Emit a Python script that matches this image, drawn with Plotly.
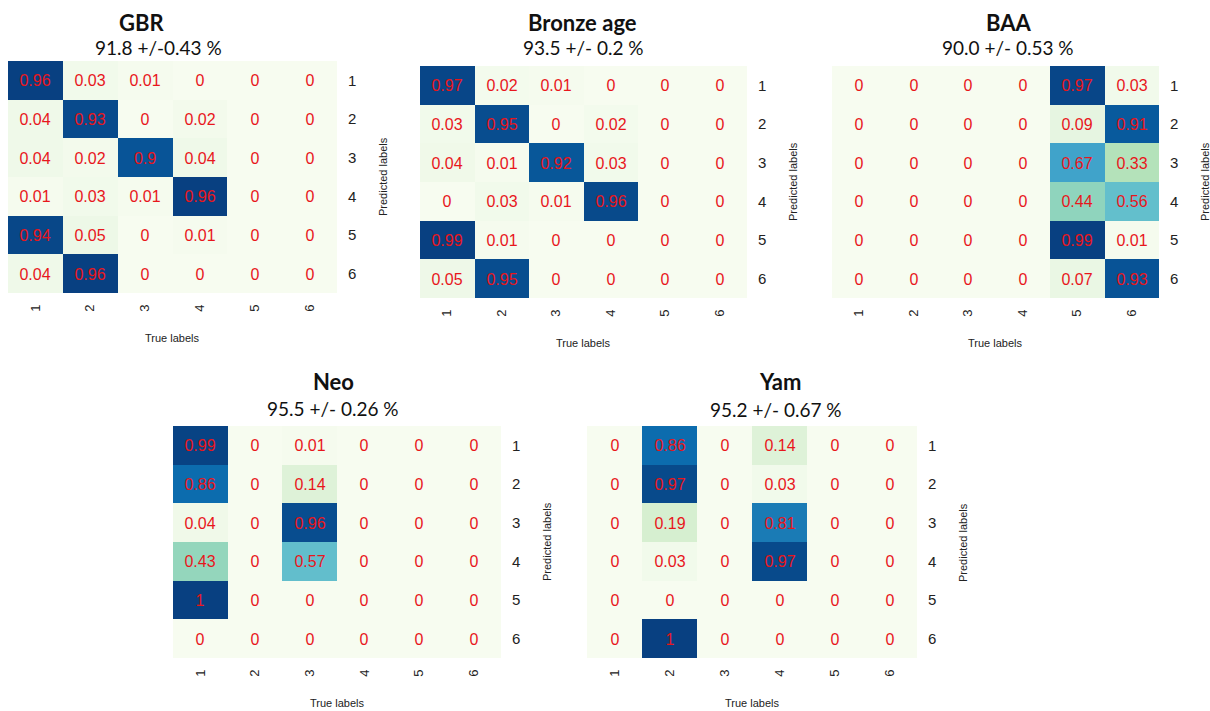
import plotly.graph_objects as go

W, H = 1210, 711

# Class labels (true labels on x, predicted labels on y)
labels = [1, 2, 3, 4, 5, 6]

# Normalised confusion matrices, one row per predicted label
gbr = [
    [0.96, 0.03, 0.01, 0, 0, 0],
    [0.04, 0.93, 0, 0.02, 0, 0],
    [0.04, 0.02, 0.9, 0.04, 0, 0],
    [0.01, 0.03, 0.01, 0.96, 0, 0],
    [0.94, 0.05, 0, 0.01, 0, 0],
    [0.04, 0.96, 0, 0, 0, 0],
]
bronze_age = [
    [0.97, 0.02, 0.01, 0, 0, 0],
    [0.03, 0.95, 0, 0.02, 0, 0],
    [0.04, 0.01, 0.92, 0.03, 0, 0],
    [0, 0.03, 0.01, 0.96, 0, 0],
    [0.99, 0.01, 0, 0, 0, 0],
    [0.05, 0.95, 0, 0, 0, 0],
]
baa = [
    [0, 0, 0, 0, 0.97, 0.03],
    [0, 0, 0, 0, 0.09, 0.91],
    [0, 0, 0, 0, 0.67, 0.33],
    [0, 0, 0, 0, 0.44, 0.56],
    [0, 0, 0, 0, 0.99, 0.01],
    [0, 0, 0, 0, 0.07, 0.93],
]
neo = [
    [0.99, 0, 0.01, 0, 0, 0],
    [0.86, 0, 0.14, 0, 0, 0],
    [0.04, 0, 0.96, 0, 0, 0],
    [0.43, 0, 0.57, 0, 0, 0],
    [1, 0, 0, 0, 0, 0],
    [0, 0, 0, 0, 0, 0],
]
yam = [
    [0, 0.86, 0, 0.14, 0, 0],
    [0, 0.97, 0, 0.03, 0, 0],
    [0, 0.19, 0, 0.81, 0, 0],
    [0, 0.03, 0, 0.97, 0, 0],
    [0, 0, 0, 0, 0, 0],
    [0, 1, 0, 0, 0, 0],
]

names = ["GBR", "Bronze age", "BAA", "Neo", "Yam"]
accuracies = ["91.8 +/-0.43 %", "93.5 +/- 0.2 %", "90.0 +/- 0.53 %",
              "95.5 +/- 0.26 %", "95.2 +/- 0.67 %"]
matrices = [gbr, bronze_age, baa, neo, yam]

# Panel geometry in pixels: heatmap box, title centre, subtitle centre
boxes = [(8, 337, 61, 293), (420, 747, 66, 298), (832, 1159, 66, 298),
         (173, 501, 426, 658), (587, 917, 426, 658)]
title_pos = [(141, 23), (582, 23), (1009, 23), (333, 382), (780, 382)]
sub_pos = [(158, 48), (583, 48), (1008, 48), (333, 408), (776, 409)]


def fx(p):
    return p / W


def fy(p):
    return 1 - p / H


fig = go.Figure()
annotations = []
sans = "Liberation Sans, Arial, sans-serif"

for i, (name, acc, z) in enumerate(zip(names, accuracies, matrices)):
    n = i + 1
    xa = "x" if n == 1 else f"x{n}"
    ya = "y" if n == 1 else f"y{n}"
    x0, x1, y0, y1 = boxes[i]
    zmax = max(max(r) for r in z)
    text = [[f"{v:g}" for v in row] for row in z]
    fig.add_trace(go.Heatmap(
        z=z, x=labels, y=labels, text=text, texttemplate="%{text}",
        textfont=dict(family=sans, size=16, color="#e8161c"),
        colorscale="GnBu", zmin=0, zmax=zmax, showscale=False,
        xaxis=xa, yaxis=ya, hoverinfo="skip",
    ))
    xkey = "xaxis" if n == 1 else f"xaxis{n}"
    ykey = "yaxis" if n == 1 else f"yaxis{n}"
    fig.layout[xkey] = dict(
        domain=[fx(x0), fx(x1)], anchor=ya, type="category",
        tickangle=-90, ticks="", showgrid=False, zeroline=False, showline=False,
        tickfont=dict(family=sans, size=13, color="#222222"),
        ticklabelstandoff=8, fixedrange=True,
    )
    fig.layout[ykey] = dict(
        domain=[fy(y1), fy(y0)], anchor=xa, type="category", side="right",
        autorange="reversed", ticks="", showgrid=False, zeroline=False,
        showline=False, tickfont=dict(family=sans, size=15, color="#222222"),
        ticklabelstandoff=10, fixedrange=True,
    )
    tx, ty = title_pos[i]
    annotations.append(dict(
        x=fx(tx), y=fy(ty), xref="paper", yref="paper", text=f"<b>{name}</b>",
        showarrow=False, xanchor="center", yanchor="middle",
        font=dict(family="Lato, Open Sans, sans-serif", size=22, color="#111111"),
    ))
    sx, sy = sub_pos[i]
    annotations.append(dict(
        x=fx(sx), y=fy(sy), xref="paper", yref="paper", text=acc,
        showarrow=False, xanchor="center", yanchor="middle",
        font=dict(family="Lato, Open Sans, sans-serif", size=19, color="#111111"),
    ))
    # axis titles
    annotations.append(dict(
        x=fx((x0 + x1) / 2), y=fy(y1 + 45), xref="paper", yref="paper",
        text="True labels", showarrow=False, xanchor="center", yanchor="middle",
        font=dict(family=sans, size=11, color="#222222"),
    ))
    annotations.append(dict(
        x=fx(x1 + 46), y=fy((y0 + y1) / 2), xref="paper", yref="paper",
        text="Predicted labels", showarrow=False, textangle=-90,
        xanchor="center", yanchor="middle",
        font=dict(family=sans, size=11, color="#222222"),
    ))

fig.update_layout(
    width=W, height=H, margin=dict(l=0, r=0, t=0, b=0),
    paper_bgcolor="white", plot_bgcolor="white",
    annotations=annotations, showlegend=False,
)

fig.write_html("out.html")
